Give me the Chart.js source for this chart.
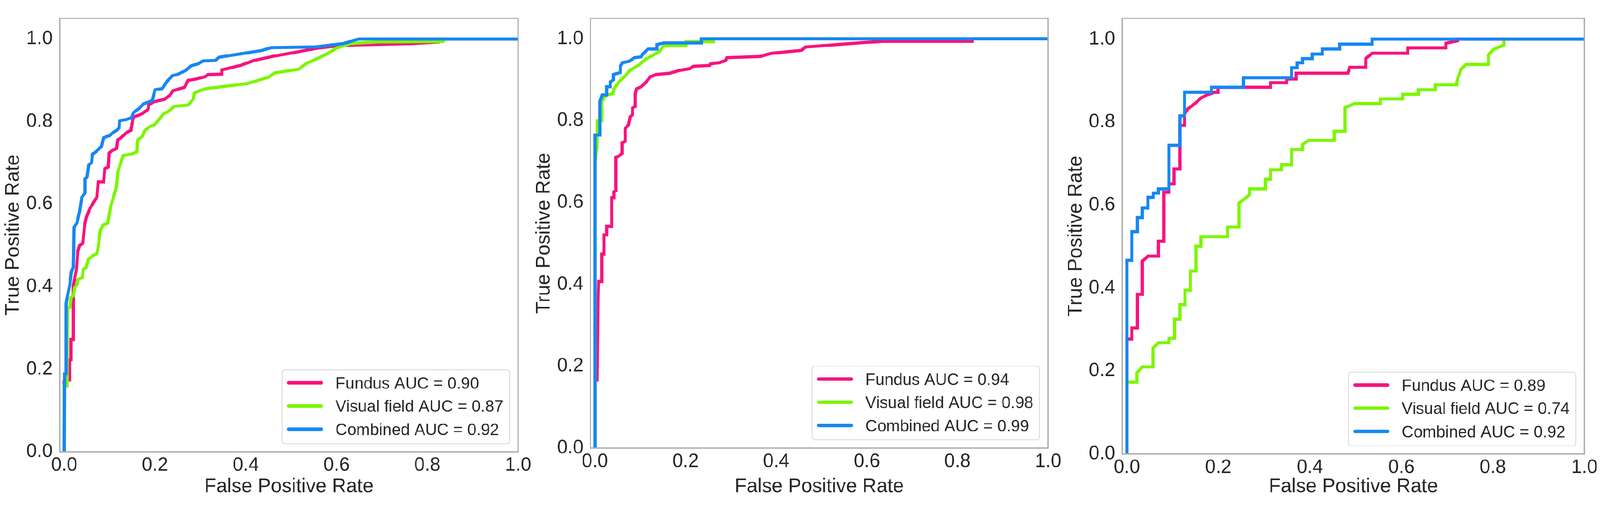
<!DOCTYPE html>
<html>
<head>
<meta charset="utf-8">
<script src="https://cdn.jsdelivr.net/npm/chart.js@4.4.1/dist/chart.umd.min.js"></script>
<style>
html,body{margin:0;padding:0;background:#ffffff;overflow:hidden;}
#stage{position:absolute;left:0;top:0;width:4317px;height:1348px;transform-origin:0 0;background:#ffffff;}
#stage canvas{position:absolute;top:0;}
</style>
</head>
<body>
<div id="stage">
<canvas id="c1"></canvas>
<canvas id="c2"></canvas>
<canvas id="c3"></canvas>
</div>
<script>
// ---------- tick labels ----------
const xTickValues = [0, 0.2, 0.4, 0.6, 0.8, 1.0];
const xTickLabels = ['0.0', '0.2', '0.4', '0.6', '0.8', '1.0'];
const yTickValues = [0, 0.2, 0.4, 0.6, 0.8, 1.0];
const yTickLabels = ['0.0', '0.2', '0.4', '0.6', '0.8', '1.0'];
const xAxisTitle = 'False Positive Rate';
const yAxisTitle = 'True Positive Rate';

// ---------- panel 1 ----------
const p1Labels = ['Fundus AUC = 0.90', 'Visual field AUC = 0.87', 'Combined AUC = 0.92'];
const p1FundusFpr = [0, 0, 0.006, 0.012, 0.012, 0.015, 0.015, 0.020, 0.020, 0.027, 0.030, 0.034, 0.041, 0.045, 0.049, 0.056, 0.064, 0.072, 0.075, 0.087, 0.0895, 0.097, 0.099, 0.106, 0.115, 0.118, 0.124, 0.137, 0.147, 0.149, 0.153, 0.163, 0.172, 0.185, 0.186, 0.197, 0.221, 0.232, 0.240, 0.265, 0.273, 0.290, 0.311, 0.317, 0.347, 0.347, 0.388, 0.418, 0.464, 0.500, 0.539, 0.558, 0.615, 0.690, 0.766, 0.826, 0.830, 1.0];
const p1FundusTpr = [0, 0.170, 0.174, 0.174, 0.223, 0.223, 0.272, 0.272, 0.403, 0.442, 0.486, 0.500, 0.505, 0.549, 0.569, 0.588, 0.603, 0.617, 0.654, 0.654, 0.686, 0.690, 0.724, 0.730, 0.735, 0.756, 0.760, 0.773, 0.779, 0.793, 0.811, 0.815, 0.819, 0.830, 0.840, 0.848, 0.854, 0.863, 0.875, 0.883, 0.900, 0.903, 0.909, 0.914, 0.915, 0.925, 0.936, 0.948, 0.959, 0.966, 0.974, 0.978, 0.985, 0.987, 0.989, 0.993, 1.0, 1.0];
const p1VisualFpr = [0, 0, 0.006, 0.008, 0.013, 0.015, 0.020, 0.023, 0.028, 0.031, 0.040, 0.042, 0.048, 0.053, 0.060, 0.064, 0.072, 0.075, 0.079, 0.085, 0.096, 0.102, 0.110, 0.115, 0.118, 0.124, 0.130, 0.148, 0.160, 0.162, 0.172, 0.178, 0.189, 0.200, 0.213, 0.219, 0.230, 0.243, 0.273, 0.284, 0.287, 0.298, 0.314, 0.336, 0.350, 0.403, 0.449, 0.464, 0.517, 0.532, 0.554, 0.577, 0.600, 0.630, 0.690, 0.834, 0.840, 1.0];
const p1VisualTpr = [0, 0.160, 0.160, 0.350, 0.350, 0.374, 0.378, 0.398, 0.405, 0.418, 0.422, 0.442, 0.446, 0.466, 0.472, 0.476, 0.480, 0.496, 0.534, 0.549, 0.554, 0.593, 0.622, 0.642, 0.677, 0.698, 0.718, 0.721, 0.727, 0.756, 0.764, 0.779, 0.788, 0.793, 0.811, 0.819, 0.825, 0.837, 0.840, 0.854, 0.869, 0.875, 0.880, 0.883, 0.885, 0.892, 0.907, 0.918, 0.927, 0.940, 0.951, 0.963, 0.978, 0.989, 0.993, 0.994, 1.0, 1.0];
const p1CombinedFpr = [0, 0.001, 0.004, 0.004, 0.0065, 0.012, 0.016, 0.020, 0.0215, 0.028, 0.034, 0.039, 0.046, 0.046, 0.050, 0.054, 0.060, 0.0623, 0.070, 0.0773, 0.082, 0.0868, 0.100, 0.107, 0.117, 0.121, 0.122, 0.137, 0.148, 0.153, 0.165, 0.175, 0.194, 0.200, 0.216, 0.227, 0.238, 0.251, 0.268, 0.279, 0.295, 0.306, 0.333, 0.341, 0.388, 0.434, 0.456, 0.554, 0.615, 0.645, 0.650, 1.0];
const p1CombinedTpr = [0, 0.189, 0.189, 0.359, 0.374, 0.403, 0.437, 0.447, 0.544, 0.554, 0.583, 0.617, 0.627, 0.661, 0.665, 0.695, 0.700, 0.721, 0.727, 0.735, 0.740, 0.761, 0.766, 0.773, 0.780, 0.785, 0.802, 0.805, 0.809, 0.822, 0.832, 0.843, 0.851, 0.877, 0.880, 0.898, 0.911, 0.915, 0.924, 0.935, 0.940, 0.947, 0.948, 0.956, 0.964, 0.972, 0.979, 0.981, 0.989, 0.999, 1.0, 1.0];

// ---------- panel 2 ----------
const p2Labels = ['Fundus AUC = 0.94', 'Visual field AUC = 0.98', 'Combined AUC = 0.99'];
const p2FundusFpr = [0, 0, 0.005, 0.007, 0.008, 0.015, 0.015, 0.020, 0.020, 0.026, 0.026, 0.037, 0.037, 0.042, 0.042, 0.046, 0.046, 0.053, 0.060, 0.060, 0.067, 0.067, 0.074, 0.078, 0.083, 0.083, 0.089, 0.089, 0.092, 0.102, 0.111, 0.122, 0.135, 0.165, 0.187, 0.209, 0.217, 0.253, 0.255, 0.275, 0.288, 0.291, 0.365, 0.388, 0.456, 0.464, 0.524, 0.593, 0.638, 0.832, 0.832, 1.0];
const p2FundusTpr = [0, 0.166, 0.166, 0.366, 0.407, 0.407, 0.474, 0.474, 0.521, 0.521, 0.542, 0.542, 0.612, 0.612, 0.626, 0.629, 0.710, 0.714, 0.720, 0.746, 0.750, 0.781, 0.790, 0.810, 0.815, 0.831, 0.835, 0.866, 0.878, 0.883, 0.892, 0.907, 0.913, 0.916, 0.923, 0.927, 0.933, 0.935, 0.939, 0.942, 0.947, 0.954, 0.957, 0.9645, 0.972, 0.980, 0.985, 0.991, 0.994, 0.994, 1.0, 1.0];
const p2VisualFpr = [0, 0, 0.005, 0.005, 0.015, 0.015, 0.026, 0.040, 0.042, 0.053, 0.067, 0.078, 0.097, 0.113, 0.141, 0.152, 0.201, 0.201, 0.262, 0.262, 1.0];
const p2VisualTpr = [0, 0.700, 0.735, 0.800, 0.800, 0.848, 0.863, 0.866, 0.878, 0.895, 0.910, 0.924, 0.936, 0.951, 0.968, 0.983, 0.983, 0.993, 0.993, 1.0, 1.0];
const p2CombinedFpr = [0, 0, 0.011, 0.011, 0.016, 0.026, 0.026, 0.034, 0.034, 0.041, 0.041, 0.056, 0.056, 0.061, 0.075, 0.087, 0.102, 0.105, 0.117, 0.137, 0.137, 0.152, 0.235, 0.235, 1.0];
const p2CombinedTpr = [0, 0.765, 0.765, 0.847, 0.863, 0.863, 0.883, 0.883, 0.895, 0.900, 0.913, 0.918, 0.933, 0.942, 0.945, 0.954, 0.956, 0.962, 0.975, 0.975, 0.986, 0.990, 0.990, 1.0, 1.0];

// ---------- panel 3 ----------
const p3Labels = ['Fundus AUC = 0.89', 'Visual field AUC = 0.74', 'Combined AUC = 0.92'];
const p3FundusFpr = [0, 0, 0.011, 0.011, 0.023, 0.023, 0.034, 0.034, 0.046, 0.069, 0.069, 0.081, 0.081, 0.092, 0.092, 0.103, 0.103, 0.116, 0.116, 0.126, 0.126, 0.134, 0.141, 0.151, 0.162, 0.174, 0.192, 0.199, 0.199, 0.314, 0.314, 0.349, 0.349, 0.370, 0.370, 0.483, 0.487, 0.522, 0.522, 0.536, 0.614, 0.614, 0.697, 0.697, 0.723, 0.723, 1.0];
const p3FundusTpr = [0, 0.277, 0.277, 0.304, 0.304, 0.385, 0.385, 0.465, 0.477, 0.477, 0.513, 0.513, 0.631, 0.631, 0.651, 0.651, 0.687, 0.687, 0.792, 0.792, 0.820, 0.833, 0.838, 0.847, 0.858, 0.865, 0.872, 0.872, 0.884, 0.884, 0.895, 0.895, 0.904, 0.904, 0.918, 0.918, 0.932, 0.932, 0.953, 0.966, 0.966, 0.979, 0.979, 0.990, 0.996, 1.0, 1.0];
const p3VisualFpr = [0, 0, 0.022, 0.022, 0.034, 0.057, 0.057, 0.069, 0.092, 0.092, 0.104, 0.104, 0.116, 0.116, 0.127, 0.127, 0.139, 0.139, 0.151, 0.151, 0.162, 0.162, 0.220, 0.220, 0.245, 0.245, 0.255, 0.268, 0.268, 0.303, 0.303, 0.314, 0.314, 0.338, 0.338, 0.360, 0.360, 0.384, 0.384, 0.397, 0.453, 0.453, 0.477, 0.477, 0.498, 0.554, 0.554, 0.603, 0.603, 0.637, 0.637, 0.674, 0.674, 0.721, 0.721, 0.730, 0.741, 0.790, 0.790, 0.801, 0.824, 0.824, 0.826, 1.0];
const p3VisualTpr = [0, 0.173, 0.173, 0.196, 0.210, 0.210, 0.255, 0.268, 0.268, 0.279, 0.279, 0.325, 0.325, 0.360, 0.360, 0.395, 0.395, 0.441, 0.441, 0.501, 0.501, 0.524, 0.524, 0.547, 0.547, 0.605, 0.613, 0.625, 0.639, 0.639, 0.662, 0.662, 0.685, 0.685, 0.697, 0.697, 0.734, 0.734, 0.746, 0.756, 0.756, 0.778, 0.778, 0.835, 0.845, 0.845, 0.856, 0.856, 0.867, 0.867, 0.878, 0.878, 0.890, 0.890, 0.897, 0.927, 0.939, 0.939, 0.962, 0.975, 0.986, 0.997, 1.0, 1.0];
const p3CombinedFpr = [0, 0, 0.011, 0.011, 0.023, 0.023, 0.034, 0.034, 0.046, 0.046, 0.058, 0.058, 0.069, 0.069, 0.092, 0.092, 0.116, 0.116, 0.126, 0.126, 0.185, 0.185, 0.255, 0.255, 0.360, 0.360, 0.372, 0.372, 0.384, 0.384, 0.405, 0.405, 0.427, 0.427, 0.465, 0.465, 0.536, 0.536, 1.0];
const p3CombinedTpr = [0, 0.467, 0.467, 0.536, 0.536, 0.570, 0.570, 0.593, 0.593, 0.619, 0.619, 0.629, 0.629, 0.639, 0.639, 0.744, 0.744, 0.815, 0.815, 0.872, 0.872, 0.884, 0.884, 0.907, 0.907, 0.931, 0.931, 0.943, 0.943, 0.953, 0.953, 0.964, 0.964, 0.976, 0.976, 0.988, 0.988, 1.0, 1.0];

// ---------- styling / layout ----------
const PAGE_W = 4317;
const PAGE_H = 1348;
const FONT = "'Liberation Sans', Arial, Helvetica, sans-serif";
const TEXT_COLOR = '#262626';
const SERIES_COLORS = ['#f7137f', '#7cf600', '#1787f3'];
const FRAME_COLOR = '#ababab';

// fit the fixed-size stage into the actual viewport
(function fitStage() {
  const vw = window.innerWidth || PAGE_W;
  const vh = window.innerHeight || PAGE_H;
  const s = Math.min(vw / PAGE_W, vh / PAGE_H);
  document.getElementById('stage').style.transform = 'scale(' + s + ')';
})();

const panels = [
  { id: 'c1', left: 0,    width: 1445, frame: { l: 161,  r: 1398, t: 13, b: 1218 }, labels: p1Labels,
    xs: [p1FundusFpr, p1VisualFpr, p1CombinedFpr], ys: [p1FundusTpr, p1VisualTpr, p1CombinedTpr] },
  { id: 'c2', left: 1435, width: 1445, frame: { l: 1593, r: 2828, t: 10, b: 1208 }, labels: p2Labels,
    xs: [p2FundusFpr, p2VisualFpr, p2CombinedFpr], ys: [p2FundusTpr, p2VisualTpr, p2CombinedTpr] },
  { id: 'c3', left: 2860, width: 1457, frame: { l: 3028, r: 4275, t: 9,  b: 1224 }, labels: p3Labels,
    xs: [p3FundusFpr, p3VisualFpr, p3CombinedFpr], ys: [p3FundusTpr, p3VisualTpr, p3CombinedTpr] }
];

function zip(xs, ys) { return xs.map((x, i) => ({ x: x, y: ys[i] })); }

const framePlugin = {
  id: 'axesFrame',
  afterDatasetsDraw(chart) {
    const { ctx, chartArea: ca } = chart;
    ctx.save();
    ctx.strokeStyle = FRAME_COLOR;
    ctx.lineWidth = 3.5;
    ctx.strokeRect(ca.left, ca.top, ca.right - ca.left, ca.bottom - ca.top);
    ctx.restore();
  }
};

const legendPlugin = {
  id: 'rocLegend',
  afterDraw(chart) {
    const { ctx, chartArea: ca } = chart;
    const ds = chart.data.datasets;
    const fs = 44;
    ctx.save();
    ctx.font = fs + 'px ' + FONT;
    let maxW = 0;
    ds.forEach(d => { maxW = Math.max(maxW, ctx.measureText(d.label).width); });
    const w = 144 + maxW + 17, h = 199;
    const x = ca.right - 23 - w, y = ca.bottom - 22 - h;
    const r = 7;
    ctx.beginPath();
    ctx.moveTo(x + r, y);
    ctx.arcTo(x + w, y, x + w, y + h, r);
    ctx.arcTo(x + w, y + h, x, y + h, r);
    ctx.arcTo(x, y + h, x, y, r);
    ctx.arcTo(x, y, x + w, y, r);
    ctx.closePath();
    ctx.fillStyle = 'rgba(255,255,255,0.85)';
    ctx.fill();
    ctx.strokeStyle = '#d6d6d6';
    ctx.lineWidth = 2;
    ctx.stroke();
    ds.forEach((d, i) => {
      const cy = y + 35 + i * 62.5;
      ctx.strokeStyle = d.borderColor;
      ctx.lineWidth = 9.5;
      ctx.lineCap = 'round';
      ctx.beginPath();
      ctx.moveTo(x + 18, cy);
      ctx.lineTo(x + 106, cy);
      ctx.stroke();
      ctx.fillStyle = TEXT_COLOR;
      ctx.textAlign = 'left';
      ctx.textBaseline = 'alphabetic';
      ctx.fillText(d.label, x + 144, cy + 0.358 * fs);
    });
    ctx.restore();
  }
};

function makeChart(p) {
  const cv = document.getElementById(p.id);
  cv.width = p.width;
  cv.height = PAGE_H;
  cv.style.left = p.left + 'px';
  cv.style.width = p.width + 'px';
  cv.style.height = PAGE_H + 'px';
  const fl = p.frame.l - p.left;
  const fr = p.frame.r - p.left;
  const yW = fl;
  const rightPad = p.width - fr;
  const xH = PAGE_H - p.frame.b;
  const titleSize = 53;
  const yTitlePad = Math.max(0, fl - 125 - titleSize * 1.2 / 2);

  const datasets = p.labels.map((lab, i) => ({
    label: lab,
    data: zip(p.xs[i], p.ys[i]),
    borderColor: SERIES_COLORS[i],
    backgroundColor: SERIES_COLORS[i],
    showLine: true,
    pointRadius: 0,
    pointHoverRadius: 0,
    borderWidth: 8.5,
    fill: false,
    tension: 0,
    borderJoinStyle: 'miter',
    borderCapStyle: 'butt',
    order: 2 - i
  }));

  return new Chart(cv, {
    type: 'scatter',
    data: { datasets: datasets },
    options: {
      responsive: false,
      maintainAspectRatio: false,
      animation: false,
      devicePixelRatio: 1,
      events: [],
      layout: { padding: { top: p.frame.t, right: rightPad, left: 0, bottom: 0 } },
      plugins: { legend: { display: false }, tooltip: { enabled: false } },
      scales: {
        x: {
          type: 'linear', min: -0.01, max: 1.0,
          grid: { display: false, drawTicks: false },
          border: { display: false },
          afterBuildTicks: s => { s.ticks = xTickValues.map(v => ({ value: v })); },
          afterFit: s => { s.height = xH; },
          ticks: {
            font: { family: FONT, size: 51 }, color: TEXT_COLOR, padding: 6,
            maxRotation: 0, minRotation: 0, autoSkip: false,
            callback: (v, i) => xTickLabels[i]
          },
          title: { display: true, text: xAxisTitle, font: { family: FONT, size: titleSize }, color: TEXT_COLOR, padding: { top: 0, bottom: 4 } }
        },
        y: {
          type: 'linear', min: 0, max: 1.05,
          grid: { display: false, drawTicks: false },
          border: { display: false },
          afterBuildTicks: s => { s.ticks = yTickValues.map(v => ({ value: v })); },
          afterFit: s => { s.width = yW; },
          ticks: {
            font: { family: FONT, size: 51 }, color: TEXT_COLOR, padding: 19,
            autoSkip: false,
            callback: (v, i) => yTickLabels[i]
          },
          title: { display: true, text: yAxisTitle, font: { family: FONT, size: titleSize }, color: TEXT_COLOR, padding: { top: yTitlePad, bottom: 0 } }
        }
      }
    },
    plugins: [framePlugin, legendPlugin]
  });
}

panels.forEach(makeChart);
</script>
</body>
</html>
